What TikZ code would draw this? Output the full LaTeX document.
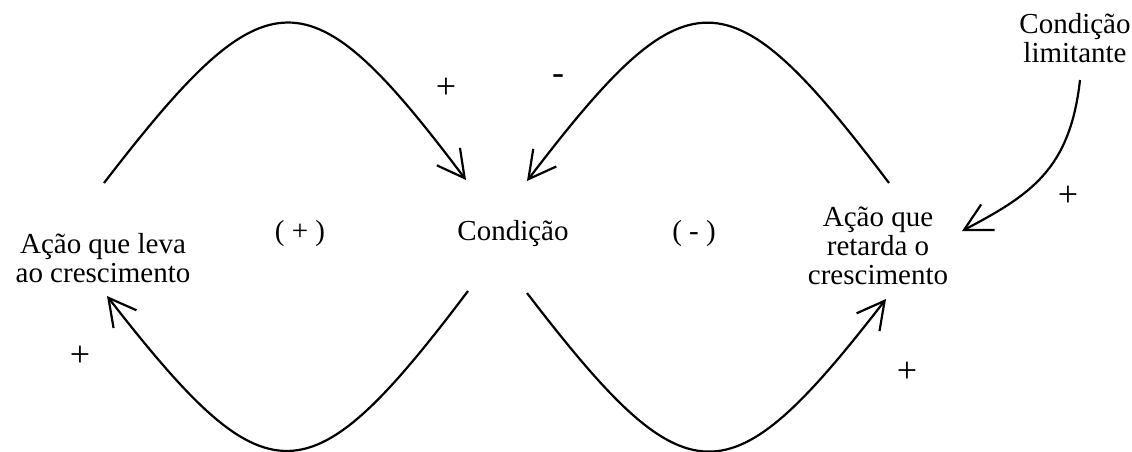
\documentclass[tikz,border=0pt]{standalone}
\usepackage{fontspec}
\setmainfont{Liberation Serif}
\usetikzlibrary{arrows.meta}
\tikzset{
  lbl/.style={font=\fontsize{29}{29}\selectfont, inner sep=0pt, align=center},
  sgn/.style={font=\fontsize{36}{36}\selectfont, inner sep=0pt},
  link/.style={line width=2.2pt, -{Straight Barb[length=27pt,width=29pt,line width=2.2pt]}},
}
\begin{document}
\begin{tikzpicture}[x=1pt,y=-1pt]
\useasboundingbox (0,0) rectangle (1132,452);
% nodes
\node[lbl, anchor=base] (cond) at (513,240) {Condição};
\node[lbl, anchor=base] (lpos) at (300,240) {( + )};
\node[lbl, anchor=base] (lneg) at (694,240) {( - )};
\node[lbl] (grow) at (103,258) {Ação que leva\\ao crescimento};
\node[lbl] (retard) at (878,246) {Ação que\\retarda o\\crescimento};
\node[lbl] (limit) at (1075,38) {Condição\\limitante};
% sign labels
\node[sgn] (s1) at (446,88) {+};
\node[sgn] (s2) at (558,80) {-};
\node[sgn] (s3) at (1068,196) {+};
\node[sgn] (s4) at (80,356) {+};
\node[sgn] (s5) at (907,372) {+};
% connector end points
\coordinate (g1) at (104,183);
\coordinate (c1) at (466,180);
\coordinate (r1) at (889,183);
\coordinate (c2) at (527,181);
\coordinate (c3) at (468,291);
\coordinate (g2) at (107,296);
\coordinate (c4) at (527,293);
\coordinate (r2) at (886,299);
\coordinate (l1) at (1080,80);
\coordinate (r3) at (962,231);
% connectors
\draw[link] (g1) .. controls (268,-30) and (308,-30) .. (c1);
\draw[link] (r1) .. controls (728,-30) and (688,-30) .. (c2);
\draw[link] (c3) .. controls (308,503) and (268,503) .. (g2);
\draw[link] (c4) .. controls (688,503) and (728,503) .. (r2);
\draw[link] (l1) .. controls (1070,170) and (1030,195) .. (r3);
\end{tikzpicture}
\end{document}
